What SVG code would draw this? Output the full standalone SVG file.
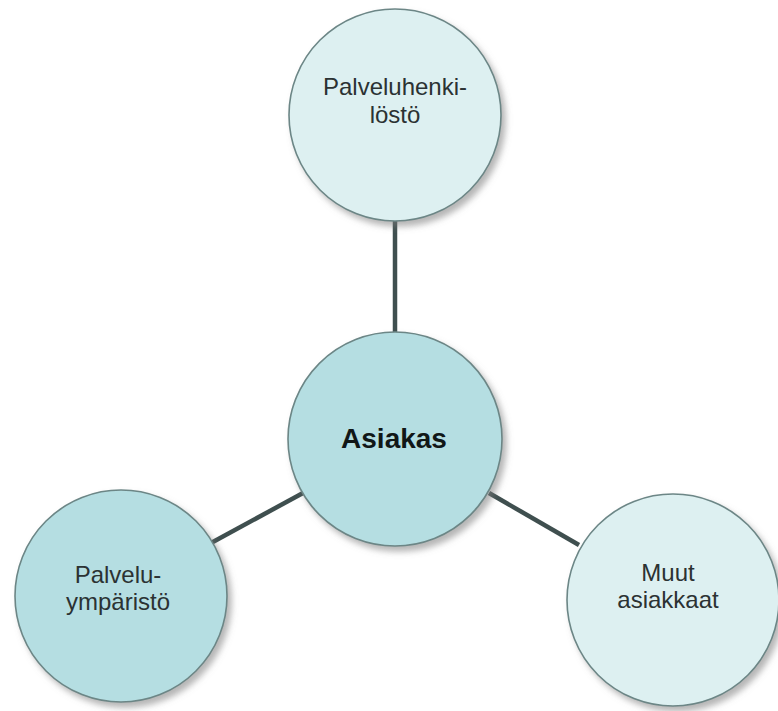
<svg xmlns="http://www.w3.org/2000/svg" width="778" height="711" viewBox="0 0 778 711">
<style>
.node{stroke:#6c8686;stroke-width:1.6;filter:url(#sh)}
.light{fill:#ddf0f1}
.dark{fill:#b5dee2}
.lbl{font-family:"Liberation Sans",Arial,sans-serif;font-size:24px;fill:#2b3233;text-anchor:middle}
.main{font-family:"Liberation Sans",Arial,sans-serif;font-size:28px;font-weight:bold;fill:#111717;text-anchor:middle}
.conn line{stroke:#3f4f4f;stroke-width:4.5;stroke-linecap:butt}
</style>
<defs>
<filter id="sh" x="-20%" y="-20%" width="150%" height="150%">
<feDropShadow dx="4" dy="5" stdDeviation="3" flood-color="#7a7a7a" flood-opacity="0.55"/>
</filter>
</defs>
<rect width="778" height="711" fill="#ffffff"/>
<g id="connectors" class="conn">
<line x1="395" y1="221" x2="395" y2="333"/>
<line x1="211" y1="543" x2="303" y2="493"/>
<line x1="489" y1="493" x2="579" y2="545"/>
</g>
<g id="palveluhenkilosto">
<circle class="node light" cx="395" cy="115" r="106"/>
<text class="lbl" x="395" y="95">Palveluhenki-</text>
<text class="lbl" x="395" y="123">löstö</text>
</g>
<g id="asiakas">
<circle class="node dark" cx="395" cy="439" r="107"/>
<text class="main" x="394" y="448">Asiakas</text>
</g>
<g id="palveluymparisto">
<circle class="node dark" cx="121" cy="596" r="106"/>
<text class="lbl" x="118" y="583">Palvelu-</text>
<text class="lbl" x="118" y="610">ympäristö</text>
</g>
<g id="muut-asiakkaat">
<circle class="node light" cx="673" cy="600" r="106"/>
<text class="lbl" x="668" y="581">Muut</text>
<text class="lbl" x="668" y="608">asiakkaat</text>
</g>
</svg>
